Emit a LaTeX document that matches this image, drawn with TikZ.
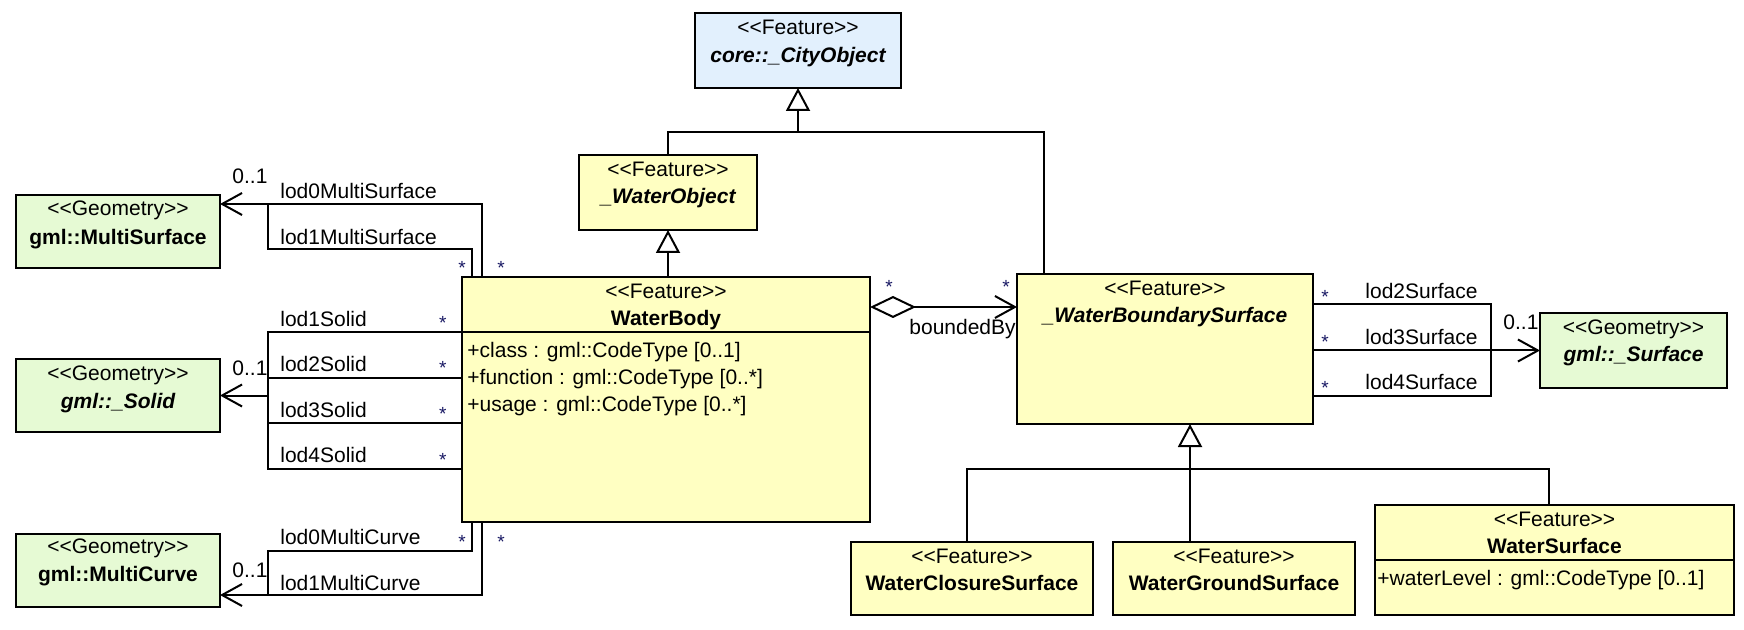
\documentclass[tikz,border=0pt]{standalone}
\usepackage{fontspec}
\newfontfamily\umlfont{Liberation Sans}
\usetikzlibrary{arrows.meta,fit,calc}
\definecolor{cyel}{RGB}{255,255,194}
\definecolor{cgrn}{RGB}{230,250,212}
\definecolor{cblu}{RGB}{226,240,253}
\definecolor{cstar}{RGB}{25,25,100}
\begin{document}
\begin{tikzpicture}[x=0.5pt,y=-0.5pt,
  font={\umlfont\fontsize{10.5pt}{12.6pt}\selectfont},
  box/.style={draw, line width=1pt, inner sep=0pt, outer sep=0pt},
  ybox/.style={box, fill=cyel},
  gbox/.style={box, fill=cgrn},
  bbox/.style={box, fill=cblu},
  txt/.style={inner sep=0pt, anchor=base},
  nm/.style={txt, font={\umlfont\fontsize{10.5pt}{12.6pt}\selectfont\bfseries}},
  anm/.style={txt, font={\umlfont\fontsize{10.5pt}{12.6pt}\selectfont\bfseries\itshape}},
  lbl/.style={inner sep=0pt, anchor=base west},
  star/.style={inner sep=0pt, anchor=base, text=cstar, font={\umlfont\fontsize{9.5pt}{11pt}\selectfont}},
  ln/.style={line width=1pt},
  gen/.style={line width=1pt, -{Triangle[length=11.5pt,width=12pt,fill=white]}},
  nav/.style={line width=1pt, -{Straight Barb[length=10pt,width=11pt]}},
  agg/.style={line width=1pt, {Diamond[length=23pt,width=11pt,fill=white]}-{Straight Barb[length=10pt,width=11pt]}}
]
\useasboundingbox (0,0) rectangle (1744,630);

% ---------- boxes ----------
\node[bbox, fit={(695,13) (901,88)}] (city) {};
\node[ybox, fit={(579,155) (757,230)}] (wobj) {};
\node[ybox, fit={(462,277) (870,522)}] (wb) {};
\node[ybox, fit={(1017,274) (1313,424)}] (wbs) {};
\node[gbox, fit={(16,195) (220,268)}] (msurf) {};
\node[gbox, fit={(16,359) (220,432)}] (solid) {};
\node[gbox, fit={(16,534) (220,607)}] (mcurve) {};
\node[gbox, fit={(1540,313) (1727,388)}] (surf) {};
\node[ybox, fit={(851,542) (1093,615)}] (wcs) {};
\node[ybox, fit={(1113,542) (1355,615)}] (wgs) {};
\node[ybox, fit={(1375,505) (1734,615)}] (wsurf) {};
\draw[ln] ($(wb.north west)+(0,55)$) -- ($(wb.north east)+(0,55)$);
\draw[ln] ($(wsurf.north west)+(0,55)$) -- ($(wsurf.north east)+(0,55)$);

% ---------- box texts ----------
\node[txt] (cityS) at (798,34.3) {<<Feature>>};
\node[anm] (cityN) at (798,62.3) {core::\_CityObject};
\node[txt] (wobjS) at (668,176.7) {<<Feature>>};
\node[anm] (wobjN) at (668,204) {\_WaterObject};
\node[txt] (wbS) at (666,299) {<<Feature>>};
\node[nm] (wbN) at (666,326) {WaterBody};
\node[lbl] (wbA1) at (467,357.3) {+class : gml::CodeType [0..1]};
\node[lbl] (wbA2) at (467,385) {+function : gml::CodeType [0..*]};
\node[lbl] (wbA3) at (467,411.7) {+usage : gml::CodeType [0..*]};
\node[txt] (wbsS) at (1165,295.7) {<<Feature>>};
\node[anm] (wbsN) at (1165,322.7) {\_WaterBoundarySurface};
\node[txt] (msurfS) at (118,216) {<<Geometry>>};
\node[nm] (msurfN) at (118,245) {gml::MultiSurface};
\node[txt] (solidS) at (118,380) {<<Geometry>>};
\node[anm] (solidN) at (118,408.3) {gml::\_Solid};
\node[txt] (mcurveS) at (118,553.3) {<<Geometry>>};
\node[nm] (mcurveN) at (118,581.7) {gml::MultiCurve};
\node[txt] (surfS) at (1633.5,335) {<<Geometry>>};
\node[anm] (surfN) at (1633.5,361.7) {gml::\_Surface};
\node[txt] (wcsS) at (972,563.3) {<<Feature>>};
\node[nm] (wcsN) at (972,590) {WaterClosureSurface};
\node[txt] (wgsS) at (1234,563.3) {<<Feature>>};
\node[nm] (wgsN) at (1234,590) {WaterGroundSurface};
\node[txt] (wsurfS) at (1554.5,526) {<<Feature>>};
\node[nm] (wsurfN) at (1554.5,553.3) {WaterSurface};
\node[lbl] (wsurfA) at (1377,585.7) {+waterLevel : gml::CodeType [0..1]};

% ---------- generalizations ----------
\coordinate (gj) at (798,132);
\draw[ln] (wobj.north) |- (gj);
\draw[ln] ($(wbs.north west)+(27,0)$) |- (gj);
\draw[gen] (gj) -- (city.south);
\draw[gen] (wb.north -| wobj.south) -- (wobj.south);
\coordinate (gk) at (1190,469);
\coordinate (gkL) at (967,469);
\coordinate (gkR) at (1549,469);
\draw[gen] (wgs.north -| gk) -- (wbs.south -| gk);
\draw[ln] (wcs.north -| gkL) -- (gkL) -- (gkR) -- (wsurf.north -| gkR);

% ---------- aggregation ----------
\coordinate (ay) at (940,307);
\draw[agg] (wb.east |- ay) -- (wbs.west |- ay);

% ---------- MultiSurface ----------
\coordinate (ms0) at (268,204);
\coordinate (ms1) at (268,249);
\draw[nav] ($(wb.north west)+(20,0)$) |- ($(msurf.north east)+(0,9)$);
\draw[ln] ($(wb.north west)+(10,0)$) |- (ms1) -- (ms0);

% ---------- Solid ----------
\coordinate (s1) at (268,332);
\coordinate (s2) at (268,378);
\coordinate (s3) at (268,423);
\coordinate (s4) at (268,469);
\draw[ln] (s1 -| wb.west) -- (s1) -- (s4) -- (s4 -| wb.west);
\draw[ln] (s2 -| wb.west) -- (s2);
\draw[ln] (s3 -| wb.west) -- (s3);
\draw[nav] (solid.east -| s1) -- (solid.east);

% ---------- MultiCurve ----------
\coordinate (c0) at (268,551);
\coordinate (c1) at (268,595);
\draw[ln] ($(wb.south west)+(10,0)$) |- (c0) -- (c1);
\draw[nav] ($(wb.south west)+(20,0)$) |- ($(mcurve.south east)+(0,-12)$);

% ---------- Surface ----------
\coordinate (r2) at (1491,304);
\coordinate (r4) at (1491,396);
\draw[ln] (r2 -| wbs.east) -- (r2) -- (r4) -- (r4 -| wbs.east);
\draw[nav] (wbs.east |- surf.west) -- (surf.west);

% ---------- connector labels ----------
\node[lbl] (l0ms) at (280,199) {lod0MultiSurface};
\node[lbl] (l1ms) at (280,245) {lod1MultiSurface};
\node[lbl] (m1) at (232,183.3) {0..1};
\node[lbl] (l1s) at (280,326.7) {lod1Solid};
\node[lbl] (l2s) at (280,371.7) {lod2Solid};
\node[lbl] (l3s) at (280,417.7) {lod3Solid};
\node[lbl] (l4s) at (280,462.7) {lod4Solid};
\node[lbl] (m2) at (232,376) {0..1};
\node[lbl] (l0mc) at (280,544.3) {lod0MultiCurve};
\node[lbl] (l1mc) at (280,590.7) {lod1MultiCurve};
\node[lbl] (m3) at (232,577.3) {0..1};
\node[lbl] (l2sf) at (1365,298.3) {lod2Surface};
\node[lbl] (l3sf) at (1365,344) {lod3Surface};
\node[lbl] (l4sf) at (1365,389.3) {lod4Surface};
\node[lbl] (m4) at (1503,329.3) {0..1};
\node[lbl] (bb) at (909,335) {boundedBy};

% ---------- multiplicity stars ----------
\node[star] (st1) at (462,275) {*};
\node[star] (st2) at (501,275) {*};
\node[star] (st3) at (442.7,329.3) {*};
\node[star] (st4) at (442.7,375) {*};
\node[star] (st5) at (442.7,421) {*};
\node[star] (st6) at (442.7,466) {*};
\node[star] (st7) at (462,548) {*};
\node[star] (st8) at (501,548) {*};
\node[star] (st9) at (889,294) {*};
\node[star] (st10) at (1006,294) {*};
\node[star] (st11) at (1325,303.7) {*};
\node[star] (st12) at (1325,349) {*};
\node[star] (st13) at (1325,394) {*};
\end{tikzpicture}
\end{document}
